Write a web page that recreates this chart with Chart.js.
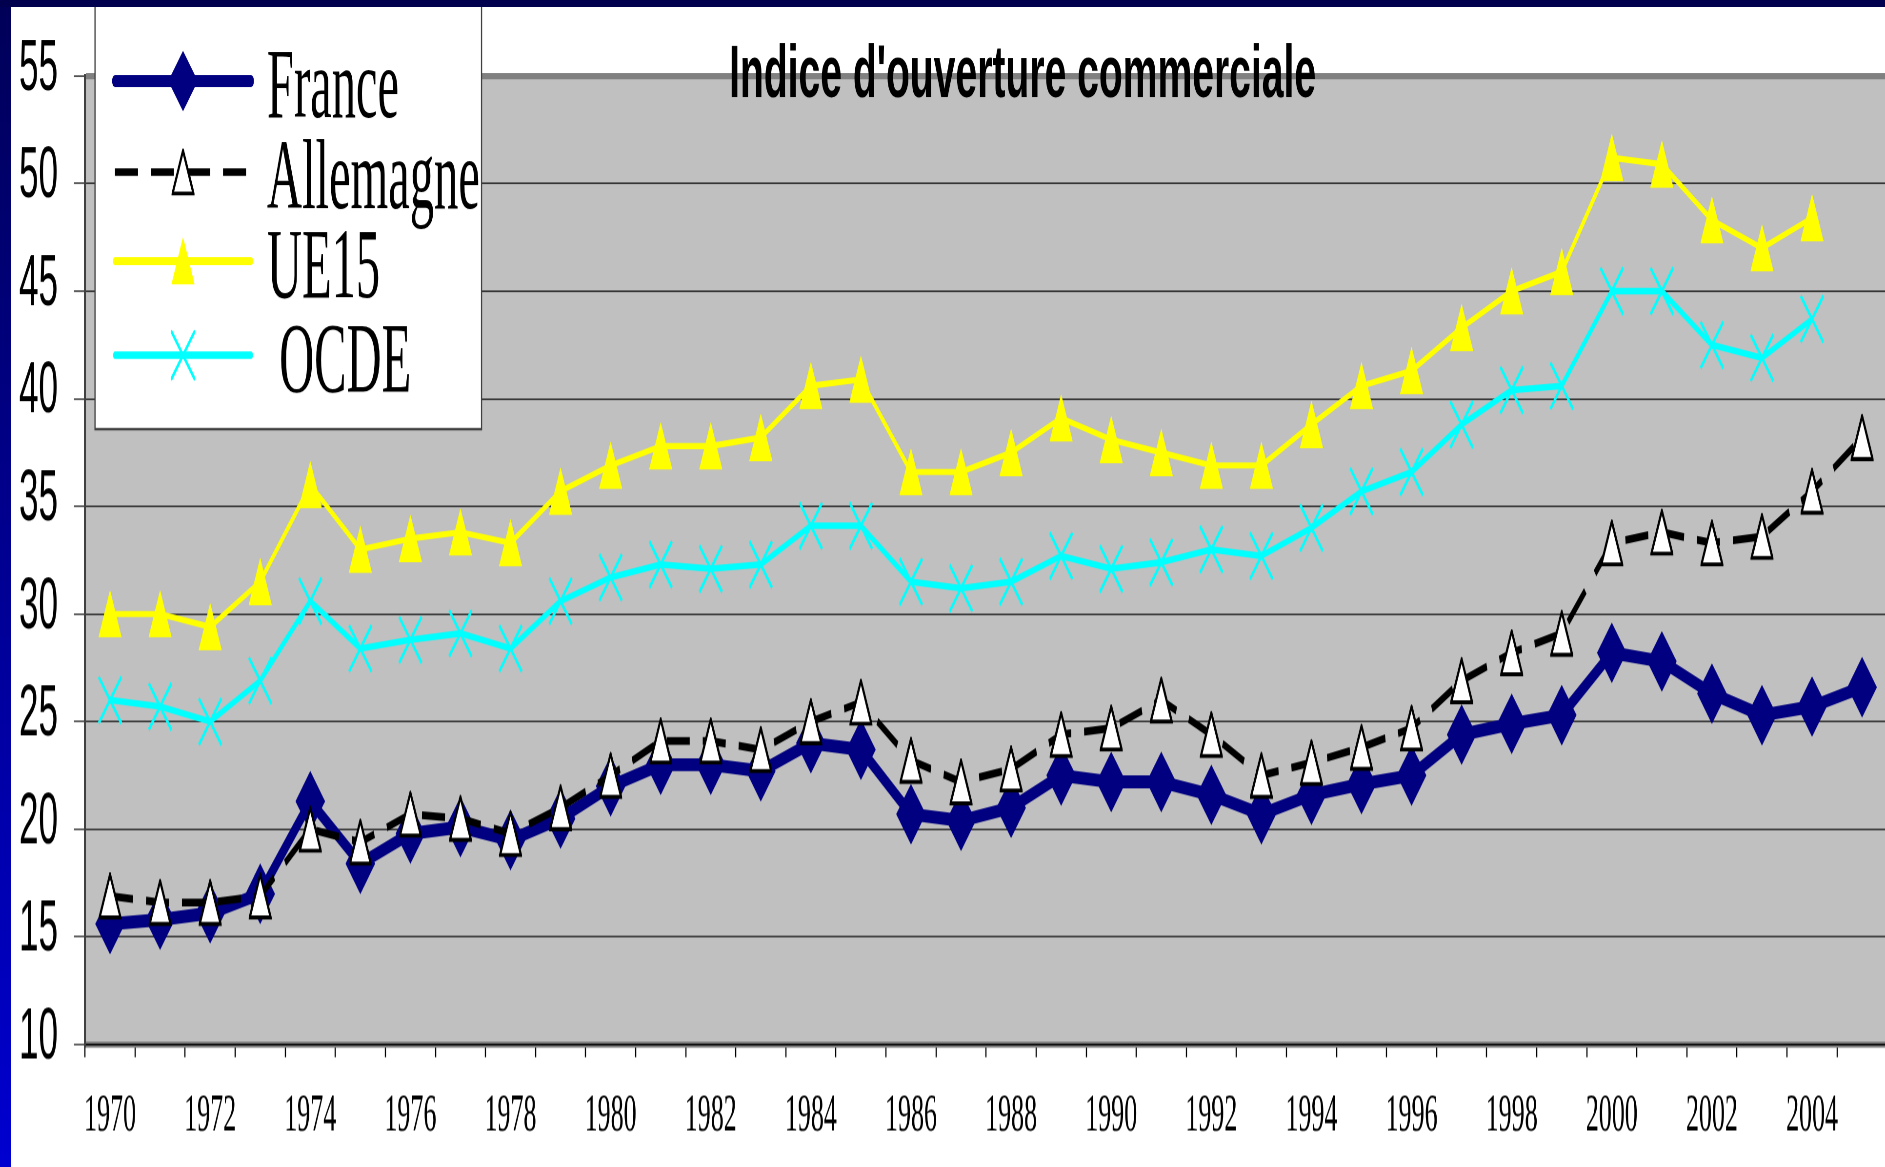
<!DOCTYPE html>
<html>
<head>
<meta charset="utf-8">
<script src="https://cdn.jsdelivr.net/npm/chart.js@4"></script>
<style>
    html, body { margin: 0; padding: 0; width: 1885px; height: 1167px; overflow: hidden; }
    body { background: linear-gradient(#000058, #0000d0); position: relative; }
    #sheet { position: absolute; left: 11px; top: 7px; right: 0; bottom: 0; background: #fff; }
    #band { position: absolute; left: 0; top: 0; width: 100%; height: 7px; background: #00004f; z-index: 2; }
    /* the original chart was pasted stretched vertically, so the whole canvas is too */
    #openness { position: absolute; left: 0; top: 0; transform: scaleY(2.05); transform-origin: 0 0; }
</style>
</head>
<body>
<div id="sheet"></div>
<div id="band"></div>
<canvas id="openness" width="1905" height="570"></canvas>
<script>
const years = ["1970", "1971", "1972", "1973", "1974", "1975", "1976", "1977", "1978", "1979",
    "1980", "1981", "1982", "1983", "1984", "1985", "1986", "1987", "1988", "1989",
    "1990", "1991", "1992", "1993", "1994", "1995", "1996", "1997", "1998", "1999",
    "2000", "2001", "2002", "2003", "2004", "2005"];

const france = [15.6, 15.8, 16.1, 17.0, 21.3, 18.4, 19.8, 20.1, 19.5, 20.5,
    22.0, 23.0, 23.0, 22.7, 24.0, 23.7, 20.7, 20.4, 21.0, 22.5,
    22.2, 22.2, 21.6, 20.7, 21.6, 22.1, 22.5, 24.4, 24.9, 25.3,
    28.2, 27.8, 26.3, 25.3, 25.7, 26.6];

const allemagne = [16.9, 16.6, 16.6, 16.9, 20.0, 19.4, 20.7, 20.5, 19.8, 21.0,
    22.5, 24.1, 24.1, 23.7, 25.0, 25.9, 23.2, 22.2, 22.8, 24.4,
    24.7, 26.0, 24.4, 22.5, 23.1, 23.8, 24.7, 26.9, 28.2, 29.1,
    33.3, 33.8, 33.3, 33.6, 35.7, 38.2];

const ue15 = [30.0, 30.0, 29.4, 31.5, 36.0, 33.0, 33.5, 33.8, 33.3, 35.7,
    36.9, 37.8, 37.8, 38.2, 40.6, 40.9, 36.6, 36.6, 37.5, 39.1,
    38.1, 37.5, 36.9, 36.9, 38.8, 40.6, 41.3, 43.3, 45.0, 45.9,
    51.2, 50.9, 48.3, 47.0, 48.4, null];

const ocde = [26.0, 25.7, 25.0, 26.9, 30.6, 28.4, 28.8, 29.1, 28.4, 30.6,
    31.7, 32.3, 32.1, 32.3, 34.1, 34.1, 31.5, 31.2, 31.5, 32.7,
    32.1, 32.4, 33.0, 32.7, 34.0, 35.7, 36.6, 38.8, 40.4, 40.6,
    45.0, 45.0, 42.5, 41.9, 43.7, null];

const seriesNames = ["France", "Allemagne", "UE15", " OCDE"];
const yMin = 10, yMax = 55, yStep = 5;
const chartTitle = "Indice d'ouverture commerciale";

// Excel style triangle marker, centred on the point (Chart.js' own triangle sits high)
function triangleMarker(fill, stroke, sw) {
    const w = 23, h = 23, m = sw / 2;
    const svg = '<svg xmlns="http://www.w3.org/2000/svg" width="' + w * 4 + '" height="' + h * 4 +
        '" viewBox="0 0 ' + w + ' ' + h + '"><path d="M' + (w / 2) + ' ' + m + ' L' + (w - m) + ' ' + (h - m) +
        ' L' + m + ' ' + (h - m) + ' Z" fill="' + fill + '" stroke="' + stroke + '" stroke-width="' + sw +
        '" stroke-linejoin="miter"/></svg>';
    const img = new Image(w, h);
    img.src = "data:image/svg+xml;charset=utf-8," + encodeURIComponent(svg);
    return img;
}

function loaded(img) {
    return new Promise(function (resolve) {
        if (img.complete && img.naturalWidth) resolve();
        else { img.onload = resolve; img.onerror = resolve; }
    });
}

document.addEventListener("DOMContentLoaded", function () {
    const ctx = document.getElementById("openness").getContext("2d");
    const whiteTriangle = triangleMarker("#ffffff", "#000000", 2);
    const yellowTriangle = triangleMarker("#ffff00", "#ffff00", 0.5);

    // grey plot area
    const plotBackground = {
        id: "plotBackground",
        beforeDraw(chart) {
            const a = chart.chartArea;
            const c = chart.ctx;
            c.save();
            c.fillStyle = "#c0c0c0";
            c.fillRect(a.left, a.top, a.right - a.left, a.bottom - a.top);
            c.restore();
        }
    };

    // title over the top of the plot, and the boxed legend at top left
    const titleAndLegend = {
        id: "titleAndLegend",
        afterDraw(chart) {
            const c = chart.ctx;
            c.save();

            c.font = "bold 36px 'Liberation Sans', Arial, sans-serif";
            c.fillStyle = "#000";
            c.textAlign = "center";
            c.textBaseline = "alphabetic";
            const w = c.measureText(chartTitle).width;
            c.save();
            c.translate(1022.5, 47.3);
            c.scale(587 / w, 1);
            c.fillText(chartTitle, 0, 0);
            c.restore();

            // box
            c.fillStyle = "#fff";
            c.fillRect(95, 0, 386.5, 209.3);
            c.strokeStyle = "#404040";
            c.lineWidth = 1.2;
            c.beginPath();
            c.moveTo(95, 0);
            c.lineTo(95, 209.3);
            c.lineTo(481.5, 209.3);
            c.lineTo(481.5, 0);
            c.stroke();

            const rows = [39.5, 83.9, 127.3, 173.2];
            const legendWidths = [5.9, 3.6, 3.9, 3.7];
            chart.data.datasets.forEach(function (ds, i) {
                const y = rows[i];
                c.strokeStyle = ds.borderColor;
                c.lineWidth = legendWidths[i];
                c.setLineDash(ds.borderDash || []);
                c.lineCap = ds.borderDash ? "butt" : "round";
                c.beginPath();
                c.moveTo(115, y);
                c.lineTo(251, y);
                c.stroke();
                c.setLineDash([]);

                if (Chart.helpers && Chart.helpers.drawPoint) {
                    c.fillStyle = ds.pointBackgroundColor;
                    c.strokeStyle = ds.pointBorderColor;
                    c.lineWidth = ds.pointBorderWidth;
                    Chart.helpers.drawPoint(c, {
                        pointStyle: ds.pointStyle,
                        radius: ds.pointRadius,
                        rotation: 0,
                        borderWidth: ds.pointBorderWidth
                    }, 183, y);
                }

                c.fillStyle = "#000";
                c.textAlign = "left";
                c.font = "48.5px 'Liberation Serif', 'Times New Roman', serif";
                c.fillText(ds.label, 267, y + 17.6);
            });
            c.restore();
        }
    };

    Promise.all([loaded(whiteTriangle), loaded(yellowTriangle)]).then(function () {
        new Chart(ctx, {
            type: "line",
            data: {
                labels: years,
                datasets: [{
                    label: seriesNames[0],
                    data: france,
                    order: 1,
                    borderColor: "#000080",
                    borderWidth: 6.3,
                    borderJoinStyle: "round",
                    borderCapStyle: "round",
                    pointStyle: "rectRot",
                    pointRadius: 14.8,
                    pointBackgroundColor: "#000080",
                    pointBorderColor: "#000080",
                    pointBorderWidth: 0
                }, {
                    label: seriesNames[1],
                    data: allemagne,
                    borderColor: "#000000",
                    borderWidth: 3.8,
                    borderDash: [23, 13],
                    borderJoinStyle: "round",
                    pointStyle: whiteTriangle,
                    pointRadius: 12,
                    pointBackgroundColor: "#ffffff",
                    pointBorderColor: "#000000",
                    pointBorderWidth: 2
                }, {
                    label: seriesNames[2],
                    data: ue15,
                    borderColor: "#ffff00",
                    borderWidth: 3,
                    borderJoinStyle: "round",
                    pointStyle: yellowTriangle,
                    pointRadius: 12,
                    pointBackgroundColor: "#ffff00",
                    pointBorderColor: "#ffff00",
                    pointBorderWidth: 0.5
                }, {
                    label: seriesNames[3],
                    data: ocde,
                    borderColor: "#00ffff",
                    borderWidth: 3.2,
                    borderJoinStyle: "round",
                    pointStyle: "crossRot",
                    pointRadius: 16,
                    pointBackgroundColor: "#00ffff",
                    pointBorderColor: "#00ffff",
                    pointBorderWidth: 2
                }]
            },
            options: {
                responsive: false,
                devicePixelRatio: 2.05,
                animation: false,
                events: [],
                layout: {
                    padding: { left: 0, top: 36.2, right: 13.2, bottom: 10.7 }
                },
                plugins: {
                    legend: { display: false },
                    title: { display: false },
                    tooltip: { enabled: false }
                },
                scales: {
                    x: {
                        offset: true,
                        afterFit: function (scale) { scale.height = 50; },
                        grid: {
                            offset: true,
                            drawOnChartArea: false,
                            drawTicks: true,
                            tickLength: 6.2,
                            tickColor: "#000",
                            tickWidth: 1.2
                        },
                        border: { color: "#000", width: 0.85 },
                        ticks: {
                            autoSkip: false,
                            maxRotation: 0,
                            minRotation: 0,
                            padding: 13.1,
                            color: "#000",
                            font: { family: "'Liberation Serif', 'Times New Roman', serif", size: 26 },
                            callback: function (value, index) {
                                return index % 2 === 0 ? years[index] : "";
                            }
                        }
                    },
                    y: {
                        min: yMin,
                        max: yMax,
                        afterFit: function (scale) { scale.width = 85; },
                        grid: {
                            color: function (c) {
                                const v = c.tick && c.tick.value;
                                return (v === yMin || v === yMax) ? "#808080" : "#000";
                            },
                            lineWidth: function (c) {
                                const v = c.tick && c.tick.value;
                                return (v === yMin || v === yMax) ? 3 : 0.6;
                            },
                            tickLength: 11,
                            tickColor: "#000",
                            tickWidth: 0.6
                        },
                        border: { color: "#404040", width: 2 },
                        ticks: {
                            stepSize: yStep,
                            padding: 16,
                            labelOffset: -2.9,
                            color: "#000",
                            font: { family: "'Liberation Sans', Arial, sans-serif", size: 35 }
                        }
                    }
                }
            },
            plugins: [plotBackground, titleAndLegend]
        });
    });
});
</script>
</body>
</html>
